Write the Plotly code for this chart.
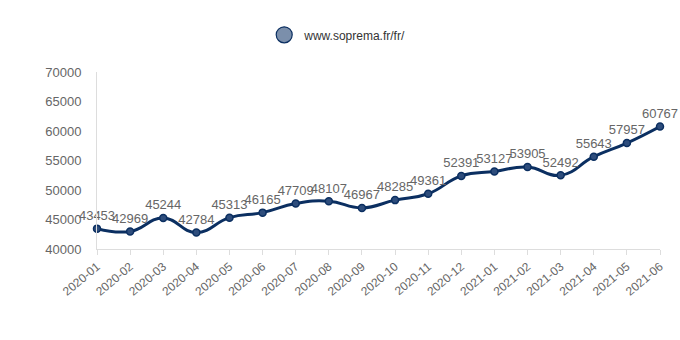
import plotly.graph_objects as go

categories = ["2020-01","2020-02","2020-03","2020-04","2020-05","2020-06","2020-07","2020-08","2020-09",
              "2020-10","2020-11","2020-12","2021-01","2021-02","2021-03","2021-04","2021-05","2021-06"]
values = [43453,42969,45244,42784,45313,46165,47709,48107,46967,48285,49361,52391,53127,53905,52492,55643,57957,60767]
series_name = "www.soprema.fr/fr/"
y_ticks = [40000,45000,50000,55000,60000,65000,70000]

fig = go.Figure()
fig.add_trace(go.Scatter(
    x=categories, y=values, mode="lines+markers+text",
    line=dict(color="#0b2f61", width=3, shape="spline", smoothing=1.3),
    marker=dict(size=7, color="#2e4d7c", line=dict(color="#0b2f61", width=1.5)),
    text=[str(v) for v in values], textposition="top center",
    textfont=dict(family="Liberation Sans, Arial", size=13, color="#666666"),
    showlegend=False, cliponaxis=False, hoverinfo="x+y",
))
fig.add_trace(go.Scatter(
    x=[None], y=[None], mode="markers", name=series_name,
    marker=dict(size=16, color="#7b8fab", line=dict(color="#0b2f61", width=1.2)),
))

fig.update_layout(
    width=680, height=340,
    margin=dict(l=97, r=20, t=72, b=91, autoexpand=False),
    paper_bgcolor="white", plot_bgcolor="white",
    font=dict(family="Liberation Sans, Arial", size=12, color="#666666"),
    legend=dict(orientation="h", x=0.297, xanchor="left", xref="paper",
                y=1.21, yanchor="middle", font=dict(size=12, color="#333333"),
                itemsizing="trace", itemwidth=30),
    xaxis=dict(type="category", tickangle=-40, showgrid=False, showline=True,
               linecolor="#dddddd", linewidth=1, ticks="outside", ticklen=5,
               tickcolor="#dddddd", range=[0, len(categories) - 1],
               tickfont=dict(size=12, color="#666666")),
    yaxis=dict(range=[40000, 70000], tickvals=y_ticks, tickformat="d", showgrid=False,
               showline=True, linecolor="#dddddd", linewidth=1, ticks="",
               ticklabelstandoff=12,
               zeroline=False, tickfont=dict(size=13, color="#666666")),
)
fig.write_html("out.html")
